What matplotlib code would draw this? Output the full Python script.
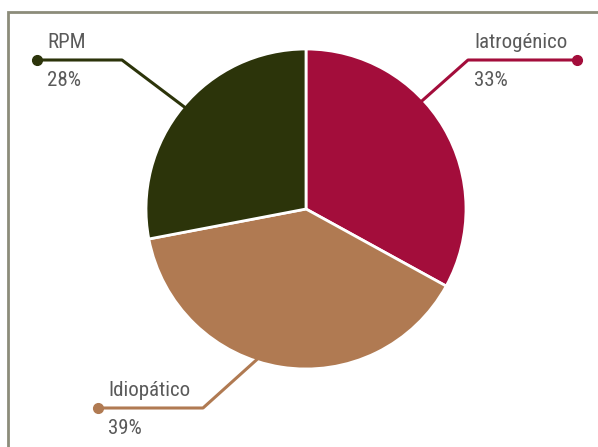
import numpy as np
import matplotlib.pyplot as plt

# ---- data ----
labels = ['Iatrogénico', 'Idiopático', 'RPM']
values = [33, 39, 28]
colors = ['#A30D3B', '#B07A52', '#2C340A']

# label placement (pixel coords of the reference, y down)
dot_xy = [(577, 60), (98, 408), (37, 60)]
elbow_x = [468, 203, 122]
edge_angle = [43, -108, 140]   # where the leader touches the pie
text_xy = [(474, 42), (108, 390), (47, 42)]
pct_xy = [(474, 80), (108, 428), (47, 80)]

W, H = 598, 447
CX, CY, R = 306, 209, 160

fig = plt.figure(figsize=(W / 100, H / 100), dpi=100)
fig.patch.set_facecolor('white')
ax = fig.add_axes([0, 0, 1, 1])


def fy(y):
    return H - y


ax.pie(values, colors=colors, startangle=90, counterclock=False,
       center=(CX, fy(CY)), radius=R, frame=True,
       wedgeprops=dict(edgecolor='white', linewidth=2))
ax.set_xlim(0, W)
ax.set_ylim(0, H)
ax.set_aspect('equal')
ax.axis('off')

# frame (left + top)
ax.plot([8, 8, W], [0, fy(12), fy(12)], color='#8C8C7A', lw=2,
        solid_joinstyle='miter')

font = ['Roboto Condensed', 'Liberation Sans Narrow', 'Lato', 'DejaVu Sans']
for lab, v, c, d, ex, ang, t, p in zip(labels, values, colors, dot_xy,
                                         elbow_x, edge_angle, text_xy, pct_xy):
    a = np.deg2rad(ang)
    px = CX + (R - 2) * np.cos(a)
    py = CY - (R - 2) * np.sin(a)
    ax.plot([d[0], ex, px], [fy(d[1]), fy(d[1]), fy(py)], color=c, lw=2.2)
    ax.plot(d[0], fy(d[1]), 'o', color=c, ms=7)
    ax.text(t[0], fy(t[1]), lab, fontsize=15, color='#5A5A5A',
            family=font, va='center', ha='left')
    ax.text(p[0], fy(p[1]), f'{v}%', fontsize=15, color='#5A5A5A',
            family=font, va='center', ha='left')

fig.savefig('out.png', dpi=100, facecolor='white')
